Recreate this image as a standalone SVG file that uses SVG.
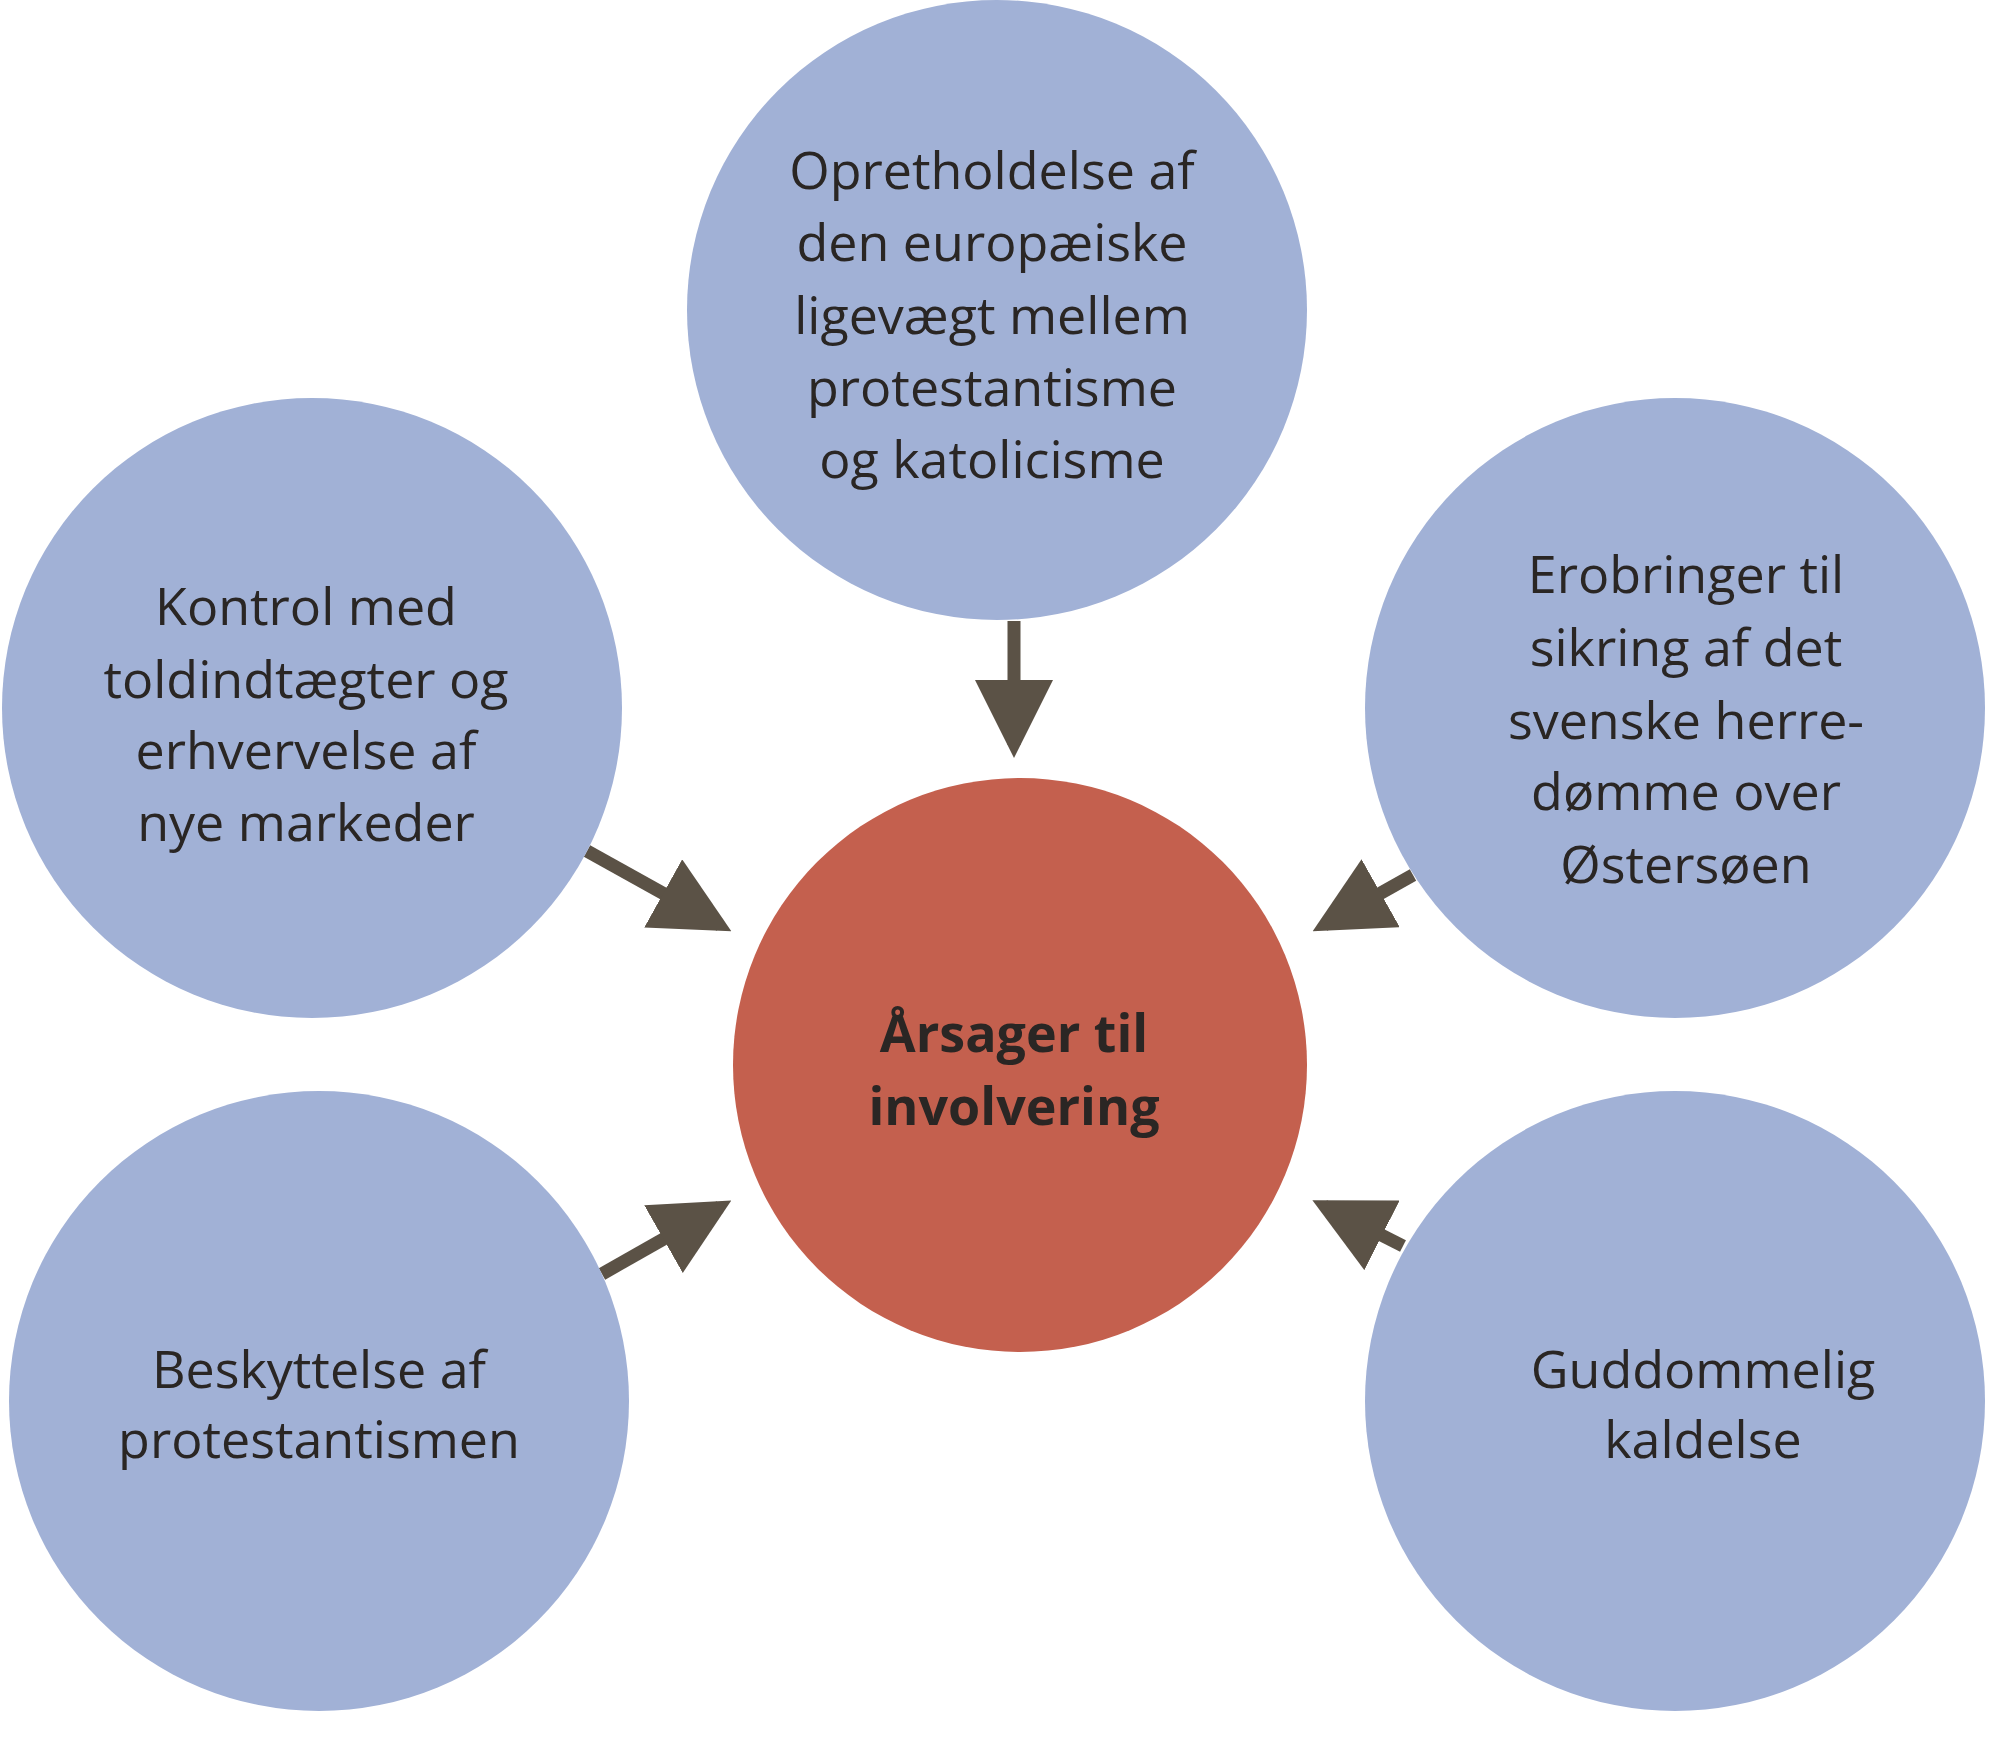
<svg xmlns="http://www.w3.org/2000/svg" width="2000" height="1753" viewBox="0 0 2000 1753">
<style>
.b{fill:#a1b1d6}
.t{font-family:"Open Sans","Liberation Sans",sans-serif;font-size:52px;fill:#2a2624;text-anchor:middle}
.c{font-weight:bold}
.a{stroke:#5b5246;stroke-width:13;fill:none;marker-end:url(#h)}
</style>
<defs><marker id="h" markerWidth="6" markerHeight="6" refX="5" refY="3" orient="auto" markerUnits="strokeWidth" viewBox="0 0 6 6"><path d="M0,0L6,3L0,6z" fill="#5b5246"/></marker></defs>
<rect width="2000" height="1753" fill="#fff"/>
<g id="connectors">
<line class="a" x1="1014" y1="621" x2="1014" y2="745"/>
<line class="a" x1="587" y1="851" x2="720" y2="925"/>
<line class="a" x1="1413" y1="875" x2="1324" y2="925"/>
<line class="a" x1="602" y1="1274" x2="720" y2="1207"/>
<line class="a" x1="1403" y1="1246" x2="1324" y2="1206"/>
</g>
<g id="top"><circle class="b" cx="997" cy="310" r="310"/>
<text class="t"><tspan x="992" y="189">Opretholdelse af</tspan><tspan x="992" y="261">den europæiske</tspan><tspan x="992" y="334">ligevægt mellem</tspan><tspan x="992" y="406">protestantisme</tspan><tspan x="992" y="478">og katolicisme</tspan></text></g>
<g id="leftup"><circle class="b" cx="312" cy="708" r="310"/>
<text class="t"><tspan x="306" y="625">Kontrol med</tspan><tspan x="306" y="698">toldindtægter og</tspan><tspan x="306" y="769">erhvervelse af</tspan><tspan x="306" y="841">nye markeder</tspan></text></g>
<g id="rightup"><circle class="b" cx="1675" cy="708" r="310"/>
<text class="t"><tspan x="1686" y="593">Erobringer til</tspan><tspan x="1686" y="666">sikring af det</tspan><tspan x="1686" y="739">svenske herre-</tspan><tspan x="1686" y="810">dømme over</tspan><tspan x="1686" y="883">Østersøen</tspan></text></g>
<g id="leftdown"><circle class="b" cx="319" cy="1401" r="310"/>
<text class="t"><tspan x="319" y="1388">Beskyttelse af</tspan><tspan x="319" y="1458">protestantismen</tspan></text></g>
<g id="rightdown"><circle class="b" cx="1675" cy="1401" r="310"/>
<text class="t"><tspan x="1703" y="1388">Guddommelig</tspan><tspan x="1703" y="1458">kaldelse</tspan></text></g>
<g id="center"><circle cx="1020" cy="1065" r="287" fill="#c4604e"/>
<text class="t c"><tspan x="1014" y="1052">Årsager til</tspan><tspan x="1014" y="1125">involvering</tspan></text></g>
</svg>
